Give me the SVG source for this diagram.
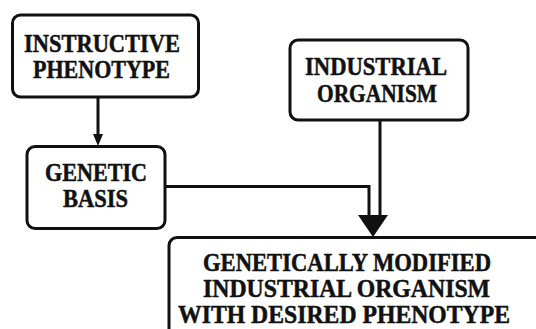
<svg xmlns="http://www.w3.org/2000/svg" width="536" height="329" viewBox="0 0 536 329">
  <style>
    .box { fill: #fff; stroke: #111; stroke-width: 3; }
    .lbl { font-family: "Liberation Serif", "Times New Roman", serif; font-weight: bold; font-size: 25px; fill: #111; stroke: #111; stroke-width: 0.5; }
    .wire { fill: none; stroke: #111; stroke-width: 3; }
    .head { fill: #111; }
  </style>
  <rect width="536" height="329" fill="#fff"/>

  <g id="connectors">
    <!-- instructive phenotype to genetic basis -->
    <line class="wire" x1="98" y1="97" x2="98" y2="136"/>
    <path class="head" d="M93,134 L103,134 L98,146 Z"/>
    <!-- genetic basis across and down -->
    <path class="wire" d="M165,186.5 H369 V218"/>
    <!-- industrial organism down -->
    <line class="wire" x1="380" y1="120" x2="380" y2="218"/>
    <!-- shared arrowhead -->
    <path class="head" d="M358,215 L388,215 L373,237 Z"/>
  </g>

  <g id="instructive-phenotype">
    <rect class="box" x="12.5" y="15" width="186" height="82" rx="8"/>
    <text class="lbl" x="24" y="52" textLength="156" lengthAdjust="spacingAndGlyphs">INSTRUCTIVE</text>
    <text class="lbl" x="33" y="78" textLength="137" lengthAdjust="spacingAndGlyphs">PHENOTYPE</text>
  </g>

  <g id="industrial-organism">
    <rect class="box" x="290" y="40" width="178" height="80" rx="8"/>
    <text class="lbl" x="305" y="75" textLength="142" lengthAdjust="spacingAndGlyphs">INDUSTRIAL</text>
    <text class="lbl" x="317" y="102" textLength="120" lengthAdjust="spacingAndGlyphs">ORGANISM</text>
  </g>

  <g id="genetic-basis">
    <rect class="box" x="27" y="146.5" width="138" height="82" rx="8"/>
    <text class="lbl" x="45" y="181" textLength="102" lengthAdjust="spacingAndGlyphs">GENETIC</text>
    <text class="lbl" x="63" y="207" textLength="65" lengthAdjust="spacingAndGlyphs">BASIS</text>
  </g>

  <g id="modified-organism">
    <rect class="box" x="169" y="237.5" width="390" height="130" rx="8"/>
    <text class="lbl" x="203" y="271" textLength="288" lengthAdjust="spacingAndGlyphs">GENETICALLY MODIFIED</text>
    <text class="lbl" x="203" y="297" textLength="287" lengthAdjust="spacingAndGlyphs">INDUSTRIAL ORGANISM</text>
    <text class="lbl" x="178" y="323" textLength="332" lengthAdjust="spacingAndGlyphs">WITH DESIRED PHENOTYPE</text>
  </g>
</svg>
